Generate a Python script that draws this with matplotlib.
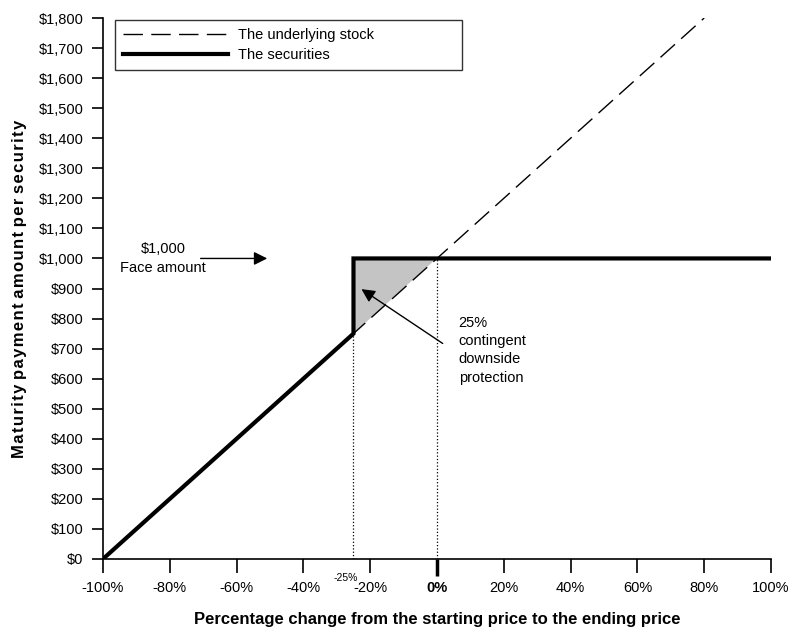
import numpy as np
import matplotlib.pyplot as plt
from matplotlib.ticker import FuncFormatter

plt.rcParams['font.family'] = ['Liberation Sans', 'DejaVu Sans']

# data
pct_change = [-100, -25, -25, 100]
securities = [0, 750, 1000, 1000]
stock_x = [-100, 80]
stock_y = [0, 1800]
shade_x = [-25, -25, 0]
shade_y = [750, 1000, 1000]
barrier = -25
x_ticks = [-100, -80, -60, -40, -20, 0, 20, 40, 60, 80, 100]
y_ticks = list(range(0, 1900, 100))

fig = plt.figure(figsize=(8.07, 6.34), dpi=100)
ax = fig.add_axes([0.1276, 0.1183, 0.8278, 0.8533])

ax.fill(shade_x, shade_y, color='#c4c4c4', lw=0, zorder=1)
ax.plot(stock_x, stock_y, color='black', lw=1, dashes=(14, 6), label='The underlying stock', zorder=2)
ax.plot(pct_change, securities, color='black', lw=3, solid_joinstyle='miter', label='The securities', zorder=3)

# dotted guides
ax.plot([barrier, barrier], [0, 750], color='black', lw=0.9, ls=':', zorder=1)
ax.plot([0, 0], [0, 1000], color='black', lw=0.9, ls=':', zorder=1)

ax.set_xlim(-100, 100)
ax.set_ylim(0, 1800)
ax.set_xticks(x_ticks)
ax.set_xticklabels([f'{t}%' for t in x_ticks])
ax.set_yticks(y_ticks)
ax.yaxis.set_major_formatter(FuncFormatter(lambda v, p: f'${int(v):,}'))

for s in ['top', 'right']:
    ax.spines[s].set_visible(False)
ax.spines['left'].set_linewidth(1.2)
ax.spines['bottom'].set_linewidth(1.2)
ax.tick_params(axis='y', direction='out', length=8, width=1.2, labelsize=10.5, pad=6)
ax.tick_params(axis='x', direction='out', length=10, width=1.2, labelsize=10.5, pad=6)

# emphasise 0%
for t, lab in zip(ax.xaxis.get_major_ticks(), ax.get_xticklabels()):
    if lab.get_text() == '0%':
        t.tick1line.set_markeredgewidth(2.5)
        t.tick1line.set_markersize(12)
        lab.set_fontweight('bold')

ax.text(barrier - 2.4, -0.035, '-25%', transform=ax.get_xaxis_transform(), ha='center', va='center', fontsize=7.5)

ax.set_xlabel('Percentage change from the starting price to the ending price', fontsize=12, fontweight='bold', labelpad=12)
ax.set_ylabel('M a t u r i t y   p a y m e n t   a m o u n t   p e r   s e c u r i t y'.replace(' ', '\u200a').replace('\u200a\u200a\u200a', ' '),
              fontsize=12, fontweight='bold', labelpad=8)

# annotations
ax.text(-82, 1000, '$1,000\nFace amount', ha='center', va='center', fontsize=10.5, linespacing=1.4)
ax.annotate('', xy=(-50, 1000), xytext=(-71.6, 1000),
            arrowprops=dict(arrowstyle='-|>', color='black', lw=1, mutation_scale=20))
ax.annotate('', xy=(-23.3, 903), xytext=(2.4, 712),
            arrowprops=dict(arrowstyle='-|>', color='black', lw=1, mutation_scale=20))
ax.text(6.5, 810, '25%\ncontingent\ndownside\nprotection', ha='left', va='top', fontsize=10.5, linespacing=1.4)

leg = ax.legend(loc='upper left', bbox_to_anchor=(0.018, 0.997, 0.52, 0.0), mode='expand', fontsize=10.5,
                frameon=True, fancybox=False, edgecolor='black', borderpad=0.55, handlelength=7.2,
                handletextpad=0.7, labelspacing=0.45, borderaxespad=0)
leg.get_frame().set_linewidth(1)

fig.savefig('out.png', dpi=100)
